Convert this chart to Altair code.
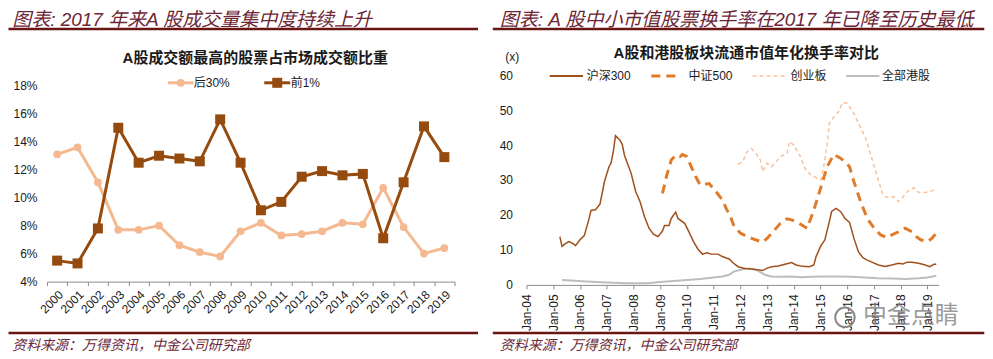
import altair as alt
import pandas as pd

# ---------------- data: left panel ----------------
years = [str(y) for y in range(2000, 2020)]
bottom30 = [13.1, 13.6, 11.1, 7.7, 7.7, 8.0, 6.6, 6.1, 5.8, 7.6,
            8.2, 7.3, 7.4, 7.6, 8.2, 8.1, 10.7, 7.9, 6.0, 6.4]
top1 = [5.5, 5.3, 7.8, 15.0, 12.5, 13.0, 12.8, 12.6, 15.6, 12.5,
        9.1, 9.7, 11.5, 11.9, 11.6, 11.7, 7.1, 11.1, 15.1, 12.9]
left_names = ["后30%", "前1%"]
left_ticks = [4, 6, 8, 10, 12, 14, 16, 18]

# ---------------- data: right panel ----------------
hs300_dates = ["2005-04", "2005-05", "2005-06", "2005-08", "2005-10", "2005-11",
               "2006-01", "2006-03", "2006-05", "2006-06", "2006-08", "2006-10", "2006-12",
               "2007-02", "2007-03", "2007-04", "2007-05", "2007-07", "2007-08", "2007-09", "2007-12",
               "2008-02", "2008-04", "2008-06", "2008-08", "2008-10", "2008-12",
               "2009-02", "2009-03", "2009-05", "2009-06", "2009-08", "2009-09", "2009-12",
               "2010-02", "2010-04", "2010-06", "2010-08", "2010-10", "2010-12",
               "2011-03", "2011-05", "2011-07", "2011-08", "2011-10", "2011-12",
               "2012-03", "2012-05", "2012-08", "2012-11",
               "2013-01", "2013-03", "2013-06", "2013-09", "2013-12",
               "2014-02", "2014-05", "2014-08", "2014-10", "2014-11",
               "2015-01", "2015-03", "2015-05", "2015-06", "2015-08", "2015-10", "2015-12",
               "2016-02", "2016-04", "2016-06", "2016-08", "2016-10", "2016-12",
               "2017-03", "2017-06", "2017-09", "2017-12",
               "2018-02", "2018-04", "2018-06", "2018-09", "2018-12",
               "2019-02", "2019-04", "2019-05"]
hs300_vals = [13.8, 11.0, 11.6, 12.4, 11.8, 11.2,
              12.9, 14.1, 18.6, 21.3, 21.5, 23.1, 29.5,
              33.8, 34.8, 38.1, 42.7, 41.4, 40.2, 37.1, 31.9,
              26.7, 23.8, 19.5, 16.2, 14.5, 13.8,
              15.4, 17.0, 17.0, 19.0, 20.8, 19.0, 17.6,
              15.0, 12.4, 10.2, 8.8, 9.2, 8.8,
              8.8, 8.1, 7.6, 7.4, 6.2, 5.2,
              4.7, 4.6, 4.4, 4.1,
              4.8, 5.2, 5.4, 5.9, 6.4,
              5.7, 5.3, 5.2, 5.7, 8.1,
              11.0, 12.9, 18.1, 21.0, 21.9, 21.0, 19.0,
              17.9, 13.3, 9.5, 7.8, 7.1, 6.5,
              5.7, 5.3, 5.7, 6.2,
              6.0, 6.5, 6.5, 6.2, 5.7,
              5.2, 5.9, 5.9]

zz500_dates = ["2009-02", "2009-04", "2009-06", "2009-08", "2009-10", "2009-11",
               "2010-01", "2010-03", "2010-05", "2010-07", "2010-11",
               "2011-02", "2011-05", "2011-07", "2011-08", "2011-10",
               "2012-01", "2012-04", "2012-07", "2012-11",
               "2013-01", "2013-04", "2013-07", "2013-10", "2013-12",
               "2014-03", "2014-07", "2014-10",
               "2015-01", "2015-04", "2015-07", "2015-10", "2015-12",
               "2016-02", "2016-04", "2016-07", "2016-10",
               "2017-01", "2017-04", "2017-07", "2017-09", "2017-12",
               "2018-03", "2018-06", "2018-08", "2018-10",
               "2019-01", "2019-03", "2019-05"]
zz500_vals = [26.2, 31.4, 35.7, 37.1, 36.7, 37.3,
              36.7, 33.8, 31.0, 28.6, 29.0,
              26.7, 24.3, 21.4, 20.5, 17.1,
              14.8, 13.8, 13.1, 12.2,
              13.3, 15.4, 17.6, 18.9, 18.6,
              17.8, 16.2, 21.4,
              27.6, 33.8, 37.3, 36.2, 35.2,
              33.8, 29.5, 23.8, 19.0,
              16.2, 14.3, 13.5, 14.3, 15.2,
              16.2, 15.2, 13.8, 12.9,
              12.4, 13.3, 14.8]

cyb_dates = ["2011-12",
             "2012-02", "2012-04", "2012-06", "2012-08", "2012-10", "2012-11",
             "2013-01", "2013-03", "2013-05", "2013-07", "2013-10", "2013-11",
             "2014-01", "2014-04", "2014-06", "2014-08", "2014-10",
             "2015-01", "2015-02", "2015-04", "2015-05", "2015-07", "2015-09", "2015-11",
             "2016-01", "2016-04", "2016-06", "2016-09", "2016-12",
             "2017-03", "2017-05", "2017-07", "2017-10", "2017-12",
             "2018-02", "2018-04", "2018-07", "2018-09", "2018-12",
             "2019-02", "2019-04"]
cyb_vals = [34.5,
            35.2, 38.1, 39.0, 37.6, 35.7, 32.4,
            34.8, 33.8, 35.2, 36.7, 37.6, 41.0,
            40.0, 36.7, 33.3, 31.9, 31.0,
            30.0, 32.4, 40.0, 46.2, 48.1, 49.5, 52.2,
            51.9, 49.0, 46.2, 42.4, 36.2,
            30.0, 25.7, 25.0, 25.2, 23.8,
            25.2, 26.7, 27.8, 26.4, 26.4,
            26.7, 27.1]

hk_dates = ["2005-05", "2006-04", "2007-01", "2007-10", "2008-07", "2009-01", "2009-07",
            "2010-01", "2010-07", "2011-01", "2011-05", "2011-08", "2011-10", "2012-03",
            "2012-06", "2012-09", "2012-12", "2013-03", "2013-07", "2013-12", "2014-04",
            "2014-09", "2015-03", "2015-09", "2016-03", "2016-09", "2017-03", "2017-09",
            "2018-03", "2018-09", "2019-01", "2019-05"]
hk_vals = [1.4, 1.0, 0.7, 0.5, 0.5, 0.8, 1.1,
           1.4, 1.7, 2.1, 2.4, 2.9, 3.8, 4.6,
           4.6, 4.0, 2.9, 2.4, 2.3, 2.4, 2.2,
           2.3, 2.4, 2.4, 2.3, 2.1, 1.9, 1.8,
           1.7, 1.9, 2.1, 2.6]

right_names = ["沪深300", "中证500", "创业板", "全部港股"]
right_ticks = [0, 10, 20, 30, 40, 50, 60]

# ---------------- text ----------------
left_heading = "图表: 2017 年来A 股成交量集中度持续上升"
right_heading = "图表: A 股中小市值股票换手率在2017 年已降至历史最低"
left_title = "A股成交额最高的股票占市场成交额比重"
right_title = "A股和港股板块流通市值年化换手率对比"
source_text = "资料来源：万得资讯，中金公司研究部"
watermark = "中金点睛"

# ---------------- style ----------------
FONT = "Liberation Sans, Arial, Noto Sans CJK SC"
CJK = "Noto Sans CJK SC, Liberation Sans"
HEAD = "#6d2636"
RULE = "#6a1414"
TXT = "#1a1a1a"
AXIS = "#8c8c8c"
LIGHT = "#F4B990"
DARK = "#964B0E"
C_HS = "#A0501A"
C_ZZ = "#E07B2A"
C_CYB = "#F6C3A0"
C_HK = "#BDBDBD"

one = pd.DataFrame({"k": [0]})


def txt(x, y, s, size, color=TXT, font=FONT, style="normal", weight="normal",
        align="left", baseline="middle", opacity=1.0):
    return alt.Chart(one).mark_text(
        align=align, baseline=baseline, fontSize=size, font=font,
        fontStyle=style, fontWeight=weight, color=color, opacity=opacity
    ).encode(x=alt.value(x), y=alt.value(y), text=alt.value(s))


def bar(x1, x2, y1, y2, color):
    return alt.Chart(one).mark_rect(color=color).encode(
        x=alt.value(x1), x2=alt.value(x2), y=alt.value(y1), y2=alt.value(y2))


def seg(x1, x2, y, color, width, dash=None):
    kw = dict(color=color, strokeWidth=width)
    if dash:
        kw["strokeDash"] = dash
    return alt.Chart(one).mark_rule(**kw).encode(
        x=alt.value(x1), x2=alt.value(x2), y=alt.value(y))


def sym(x, y, shape, size, color, filled=True):
    return alt.Chart(one).mark_point(
        shape=shape, size=size, filled=filled, color=color, opacity=1
    ).encode(x=alt.value(x), y=alt.value(y))


# ================= LEFT PANEL =================
LW, LH = 408, 206.7
left_df = pd.DataFrame({
    "year": years * 2,
    "series": [left_names[0]] * len(years) + [left_names[1]] * len(years),
    "value": bottom30 + top1,
})

lx = alt.X("year:O", sort=years, bandPosition=0.5,
           scale=alt.Scale(type="band", paddingInner=0, paddingOuter=0),
           axis=alt.Axis(title=None, labelAngle=-45, tickBand="extent",
                         domainColor=AXIS, tickColor=AXIS, tickSize=4,
                         labelPadding=3, labelFontSize=12, labelColor=TXT,
                         labelFont=FONT))
ly = alt.Y("value:Q",
           scale=alt.Scale(domain=[4, 4 + LH / 14.0], nice=False, zero=False),
           axis=alt.Axis(title=None, values=left_ticks, labelExpr="datum.value + '%'",
                         domain=False, ticks=False, grid=False, labelPadding=10,
                         labelFontSize=12, labelColor=TXT, labelFont=FONT))

lbase = alt.Chart(left_df).encode(x=lx, y=ly)
l_light = lbase.transform_filter(alt.datum.series == left_names[0])
l_dark = lbase.transform_filter(alt.datum.series == left_names[1])

left_layers = [
    l_light.mark_line(color=LIGHT, strokeWidth=3),
    l_light.mark_point(shape="circle", filled=True, size=60, color=LIGHT, opacity=1),
    l_dark.mark_line(color=DARK, strokeWidth=3),
    l_dark.mark_point(shape="square", filled=True, size=100, color=DARK, opacity=1),
    # top spacer (white), heading, rules, title, legend, source
    bar(0, 10, -67, -66, "white"),
    txt(-34.8, -64.5, left_heading, 19, HEAD, FONT, style="italic", baseline="top"),
    bar(-38.5, 431.5, -47.5, -45, RULE),
    txt(208.5, -17.3, left_title, 15, TXT, FONT, weight="bold", align="center"),
    seg(121.2, 146.8, 7.7, LIGHT, 3),
    sym(134, 7.7, "circle", 60, LIGHT),
    txt(147, 7.7, left_names[0], 12, TXT, FONT),
    seg(217.5, 243.5, 7.7, DARK, 3),
    sym(230.5, 7.7, "square", 100, DARK),
    txt(244, 7.7, left_names[1], 12, TXT, FONT),
    bar(-38.5, 431.5, 257, 259.5, RULE),
    txt(-34.8, 270.7, source_text, 14, HEAD, CJK, style="italic"),
]
left = alt.layer(*left_layers).properties(width=LW, height=LH)

# ================= RIGHT PANEL =================
RW, RH = 412.5, 210


def series_df(dates, vals):
    return pd.DataFrame({"date": dates, "value": vals})


rx = alt.X("date:T",
           scale=alt.Scale(domain=[alt.DateTime(year=2004, month=1, date=1),
                                   alt.DateTime(year=2019, month=6, date=1)]),
           axis=alt.Axis(title=None, format="%b-%y",
                         tickCount={"interval": "year", "step": 1},
                         labelAngle=270, domainColor=AXIS, tickColor=AXIS,
                         tickSize=4, labelPadding=5, labelFontSize=12,
                         labelColor=TXT, labelFont=FONT, grid=False,
                         labelOverlap=False))
ry = alt.Y("value:Q", scale=alt.Scale(domain=[0, 60], nice=False),
           axis=alt.Axis(title=None, values=right_ticks, domain=False, ticks=False,
                         grid=False, labelPadding=14, labelFontSize=12,
                         labelColor=TXT, labelFont=FONT))

r_hk = alt.Chart(series_df(hk_dates, hk_vals)).mark_line(color=C_HK, strokeWidth=2).encode(x=rx, y=ry)
r_cyb = alt.Chart(series_df(cyb_dates, cyb_vals)).mark_line(
    color=C_CYB, strokeWidth=1.5, strokeDash=[4, 3]).encode(x=rx, y=ry)
r_zz = alt.Chart(series_df(zz500_dates, zz500_vals)).mark_line(
    color=C_ZZ, strokeWidth=3, strokeDash=[9, 6]).encode(x=rx, y=ry)
r_hs = alt.Chart(series_df(hs300_dates, hs300_vals)).mark_line(
    color=C_HS, strokeWidth=1.5).encode(x=rx, y=ry)

right_layers = [
    r_hk, r_cyb, r_zz, r_hs,
    bar(0, 10, -67, -66, "white"),
    txt(-26.7, -64.5, right_heading, 19, HEAD, FONT, style="italic", baseline="top"),
    bar(-33.7, 458.3, -47.5, -45, RULE),
    txt(220, -21.7, right_title, 15, TXT, FONT, weight="bold", align="center"),
    txt(-14.2, -18.3, "(x)", 12, TXT, FONT, align="center"),
    seg(23.3, 56.6, 1, C_HS, 2),
    txt(60.3, 1, right_names[0], 12, TXT, FONT),
    seg(125, 153.3, 1, C_ZZ, 3, [9, 6]),
    txt(162.3, 1, right_names[1], 12, TXT, FONT),
    seg(226.3, 261.3, 1, C_CYB, 1.5, [4, 3]),
    txt(264.3, 1, right_names[2], 12, TXT, FONT),
    seg(320, 353.3, 1, C_HK, 2),
    txt(356, 1, right_names[3], 12, TXT, FONT),
    bar(-33.7, 458.3, 257, 259.5, RULE),
    txt(-26.7, 270.7, source_text, 14, HEAD, CJK, style="italic"),
    sym(318.8, 242.5, "circle", 380, "#8a8a8a", filled=False),
    txt(384.8, 241, watermark, 24, "#7a7a7a", CJK, align="center", opacity=0.75),
]
right = alt.layer(*right_layers).properties(width=RW, height=RH)

chart = alt.hconcat(left, right, spacing=14).configure_view(strokeWidth=0).properties(
    padding=0, background="white")

chart.save("out.html", embed_options={"renderer": "svg", "actions": False})
